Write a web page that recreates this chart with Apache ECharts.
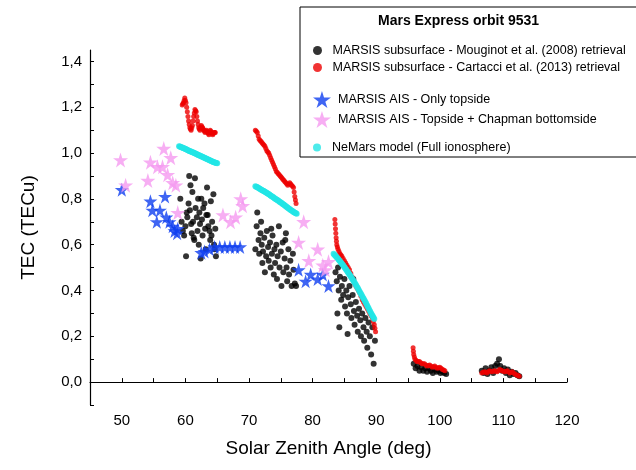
<!DOCTYPE html>
<html><head><meta charset="utf-8">
<script src="https://cdn.jsdelivr.net/npm/echarts@6/dist/echarts.min.js"></script>
<style>body{margin:0}#c{width:636px;height:470px}</style></head>
<body><div id="c"></div>
<script>
// Mouginot et al. (2008) retrieval
var mouginot = [
 [59.2,0.80],[59.4,0.70],[59.6,0.66],[59.8,0.64],[60,0.68],[60.1,0.55],[60.2,0.74],[60.3,0.72],[60.5,0.78],[60.6,0.90],[60.8,0.86],[60.9,0.69],
 [61,0.65],[61.1,0.83],[61.2,0.70],[61.4,0.62],[61.5,0.89],[61.6,0.76],[61.8,0.72],[61.9,0.66],[62,0.80],[62.1,0.60],[62.2,0.74],[62.3,0.69],
 [62.5,0.80],[62.6,0.71],[62.7,0.64],[62.8,0.76],[63,0.78],[63.1,0.67],[63.2,0.58],[63.4,0.85],[63.5,0.73],[63.6,0.68],[63.8,0.66],[63.9,0.62],
 [64,0.79],[64.1,0.64],[64.2,0.70],[64.4,0.82],[64.5,0.60],[64.6,0.58],[64.7,0.67],[64.8,0.55],[62.4,0.54],[61.3,0.63],[60.7,0.75],[63.3,0.73],
 [71,0.58],[71.2,0.68],[71.3,0.74],[71.5,0.62],[71.6,0.56],[71.8,0.65],[72,0.60],[72.1,0.52],[72.2,0.57],[72.4,0.63],[72.5,0.48],[72.7,0.55],
 [72.8,0.66],[73,0.59],[73.1,0.53],[73.3,0.61],[73.4,0.50],[73.6,0.56],[73.7,0.64],[73.9,0.47],[74,0.58],[74.1,0.52],[74.3,0.60],[74.4,0.45],
 [74.5,0.55],[74.7,0.68],[74.8,0.50],[75,0.57],[75.1,0.42],[75.3,0.61],[75.4,0.48],[75.6,0.54],[75.7,0.62],[75.9,0.50],[76,0.44],[76.2,0.58],
 [76.3,0.47],[76.5,0.53],[76.7,0.42],[76.9,0.56],[77,0.49],[77.2,0.43],[77.4,0.42],[71.9,0.70],[73.5,0.67],[75.8,0.65],
 [83.6,0.48],[83.8,0.44],[84,0.50],[84.1,0.40],[84.3,0.46],[84.5,0.36],[84.6,0.42],[84.8,0.38],[85,0.45],[85.1,0.33],[85.3,0.40],[85.4,0.30],
 [85.6,0.37],[85.8,0.42],[86,0.34],[86.1,0.28],[86.3,0.38],[86.5,0.31],[86.6,0.25],[86.8,0.35],[87,0.29],[87.1,0.22],[87.3,0.32],[87.5,0.27],
 [87.6,0.20],[87.8,0.30],[88,0.24],[88.1,0.18],[88.3,0.28],[88.5,0.22],[88.6,0.15],[88.8,0.26],[89,0.20],[89.2,0.12],[89.4,0.24],[89.6,0.08],
 [89.8,0.18],[84.2,0.24],[85.5,0.21],[86.4,0.45],[83.9,0.30],
 [95.9,0.08],[96.2,0.06],[96.5,0.07],[96.8,0.05],[97.1,0.065],[97.4,0.05],[97.7,0.06],[98,0.045],[98.3,0.06],[98.6,0.05],[98.9,0.04],
 [99.2,0.055],[99.5,0.045],[99.8,0.05],[100.1,0.04],[100.4,0.045],[100.7,0.04],[101,0.035],
 [106.6,0.05],[106.9,0.04],[107.2,0.06],[107.5,0.035],[107.8,0.05],[108.1,0.065],[108.4,0.04],[108.7,0.07],[109,0.08],[109.3,0.10],
 [109.5,0.07],[109.8,0.05],[110.1,0.06],[110.4,0.04],[110.7,0.055],[111,0.03],[111.3,0.045],[111.6,0.035],[111.9,0.04],[112.2,0.03],[112.5,0.025]
];
// Cartacci et al. (2013) retrieval
var cartacci = [
 [59.5,1.21],[59.7,1.22],[59.9,1.24],[60.1,1.22],[60.3,1.18],[60.5,1.14],[60.7,1.11],[60.9,1.10],[61.1,1.12],[61.3,1.16],[61.5,1.19],[61.7,1.18],
 [61.9,1.14],[62.1,1.11],[62.3,1.10],[62.5,1.12],[62.7,1.11],[62.9,1.10],[63.1,1.09],[63.3,1.10],[63.5,1.09],[63.7,1.08],[63.9,1.10],[64.1,1.09],
 [64.3,1.08],[64.5,1.09],[64.7,1.09],
 [71,1.10],[71.3,1.09],[71.6,1.06],[71.9,1.05],[72.2,1.04],[72.5,1.03],[72.8,1.01],[73.1,1.00],[73.4,0.98],[73.7,0.96],[74,0.94],[74.3,0.92],
 [74.6,0.91],[74.9,0.90],[75.2,0.89],[75.5,0.88],[75.8,0.87],[76.1,0.86],[76.4,0.87],[76.7,0.86],[77,0.85],[77.2,0.81],[77.4,0.78],
 [83.5,0.71],[83.6,0.67],[83.7,0.63],[83.8,0.60],[84,0.58],[84.3,0.56],[84.6,0.55],[85,0.53],[85.4,0.51],[85.8,0.49],[86.2,0.46],[86.6,0.43],
 [87,0.41],[87.4,0.39],[87.8,0.36],[88.2,0.34],[88.6,0.32],[89,0.30],[89.4,0.28],[89.7,0.25],[89.9,0.22],
 [95.8,0.15],[95.9,0.12],[96.1,0.10],[96.4,0.09],[96.8,0.09],[97.2,0.08],[97.6,0.08],[98,0.07],[98.4,0.075],[98.8,0.065],[99.2,0.07],[99.6,0.06],
 [100,0.065],[100.4,0.055],[100.8,0.05],
 [106.6,0.04],[107,0.045],[107.4,0.04],[107.8,0.05],[108.2,0.045],[108.6,0.05],[109,0.045],[109.4,0.055],[109.8,0.05],[110.2,0.045],[110.6,0.05],
 [111,0.04],[111.4,0.045],[111.8,0.035],[112.2,0.03],[112.5,0.025]
];
var aisTopside = [
 [50,0.84],[54.5,0.79],[54.8,0.75],[55.5,0.70],[56,0.75],[56.8,0.81],[57,0.72],[57.5,0.70],[58,0.68],[58.3,0.66],[58.7,0.65],[58.8,0.67],
 [62.5,0.565],[63,0.57],[63.8,0.58],[64.6,0.59],[65.4,0.59],[66.2,0.59],[67,0.59],[67.8,0.59],[68.6,0.59],
 [77.8,0.49],[78.9,0.44],[79.7,0.47],[80.8,0.45],[81.6,0.47],[82.5,0.42]
];
var aisChapman = [
 [49.8,0.97],[50.6,0.86],[54.1,0.88],[54.5,0.96],[55.6,0.94],[56.4,0.94],[56.6,1.02],[57.7,0.98],[57.2,0.905],[58,0.87],[58.5,0.86],[58.8,0.74],
 [65.9,0.73],[67.1,0.70],[67.9,0.72],[68.7,0.80],[69,0.77],
 [78.6,0.70],[77.8,0.61],[80.8,0.58],[79.4,0.53],[81.6,0.51],[82.5,0.525],[82,0.49]
];
var nemars = [
 [59,1.03],[59.5,1.024],[60,1.018],[60.5,1.011],[61,1.005],[61.5,0.999],[62,0.992],[62.5,0.986],[63,0.979],[63.5,0.973],[64,0.966],[64.5,0.96],[65,0.955],
 [71,0.855],[71.5,0.848],[72,0.839],[72.5,0.831],[73,0.822],[73.5,0.813],[74,0.803],[74.5,0.794],[75,0.784],[75.5,0.774],[76,0.763],[76.5,0.753],[77,0.743],[77.5,0.735],
 [83.3,0.56],[83.8,0.545],[84.3,0.528],[84.8,0.51],[85.3,0.49],[85.8,0.47],[86.3,0.448],[86.8,0.425],[87.3,0.40],[87.8,0.375],[88.3,0.35],[88.8,0.322],[89.3,0.295],[89.7,0.275]
];

var font = 'Liberation Sans, Arial, sans-serif';
function dense(arr, step) { // fill line-like series densely along their segments
  var out = [];
  for (var i = 0; i < arr.length; i++) {
    out.push(arr[i]);
    var n = arr[i+1];
    if (n && n[0] - arr[i][0] < 1.5 && n[0] > arr[i][0]) {
      for (var t = step; t < 1; t += step) out.push([arr[i][0] + (n[0]-arr[i][0])*t, arr[i][1] + (n[1]-arr[i][1])*t]);
    }
  }
  return out;
}
var star = 'path://M50,0 L61,35 L98,35 L68,57 L79,91 L50,70 L21,91 L32,57 L2,35 L39,35 Z';
var chart = echarts.init(document.getElementById('c'));
var legText = {fontFamily: font, fontSize: 12.5, color: '#000'};
chart.setOption({
  animation: false,
  grid: {left: 90, right: 69, top: 50, bottom: 65},
  graphic: [
    {type: 'rect', shape: {x: 300, y: 7, width: 345, height: 150}, style: {fill: '#fff', stroke: '#000', lineWidth: 1}, z: 5},
    {type: 'text', left: 378, top: 14, style: {text: 'Mars Express orbit 9531', font: 'bold 14px ' + font, fill: '#000'}, z: 6}
  ],
  legend: [
    {orient: 'vertical', left: 308, top: 39, itemGap: 4, itemWidth: 20, itemHeight: 9, textStyle: legText, z: 7,
     data: [{name: 'MARSIS subsurface - Mouginot et al. (2008) retrieval'}, {name: 'MARSIS subsurface - Cartacci et al. (2013) retrieval'}]},
    {orient: 'vertical', left: 308, top: 86, itemGap: 3, itemWidth: 22, itemHeight: 17, textStyle: legText, z: 7,
     data: [{name: 'MARSIS AIS - Only topside'}, {name: 'MARSIS AIS - Topside + Chapman bottomside'}]},
    {orient: 'vertical', left: 308, top: 136, itemWidth: 20, itemHeight: 8, textStyle: legText, z: 7,
     data: [{name: 'NeMars model (Full ionosphere)'}]}
  ],
  xAxis: {
    type: 'value', min: 45, max: 120, interval: 5,
    name: 'Solar Zenith Angle (deg)', nameLocation: 'middle', nameGap: 34,
    nameTextStyle: {fontFamily: font, fontSize: 19, color: '#000'},
    axisLine: {lineStyle: {color: '#000', width: 1.2}},
    axisTick: {inside: true, length: 4, lineStyle: {color: '#000'}},
    axisLabel: {fontFamily: font, fontSize: 15, color: '#000', formatter: function (v) { return v % 10 === 0 && v >= 50 ? v : ''; }},
    splitLine: {show: false}
  },
  yAxis: {
    type: 'value', min: -0.1, max: 1.45, interval: 0.1,
    name: 'TEC (TECu)', nameLocation: 'middle', nameGap: 52,
    nameTextStyle: {fontFamily: font, fontSize: 19, color: '#000'},
    axisLine: {show: true, lineStyle: {color: '#000', width: 1.2}},
    axisTick: {inside: true, length: 4, lineStyle: {color: '#000'}},
    axisLabel: {fontFamily: font, fontSize: 15, color: '#000', showMaxLabel: false, formatter: function (v) {
      var r = Math.round(v * 10);
      return (r % 2 === 0 && r >= 0) ? (r / 10).toFixed(1).replace('.', ',') : '';
    }},
    splitLine: {show: false}
  },
  series: [
    {name: 'NeMars model (Full ionosphere)', type: 'scatter', data: dense(nemars, 0.25), symbolSize: 6, itemStyle: {color: '#22e6e6'}, z: 3},
    {name: 'MARSIS subsurface - Mouginot et al. (2008) retrieval', type: 'scatter', data: mouginot, symbolSize: 6, itemStyle: {color: '#000'}, z: 2},
    {name: 'MARSIS subsurface - Cartacci et al. (2013) retrieval', type: 'scatter', data: dense(cartacci, 0.5), symbolSize: 5, itemStyle: {color: '#ee0000'}, z: 2},
    {name: 'MARSIS AIS - Only topside', type: 'scatter', symbol: star, data: aisTopside, symbolSize: 14, itemStyle: {color: '#0f3ff0'}, z: 4},
    {name: 'MARSIS AIS - Topside + Chapman bottomside', type: 'scatter', symbol: star, data: aisChapman, symbolSize: 15, itemStyle: {color: '#f59af0'}, z: 4}
  ]
});
</script></body></html>
